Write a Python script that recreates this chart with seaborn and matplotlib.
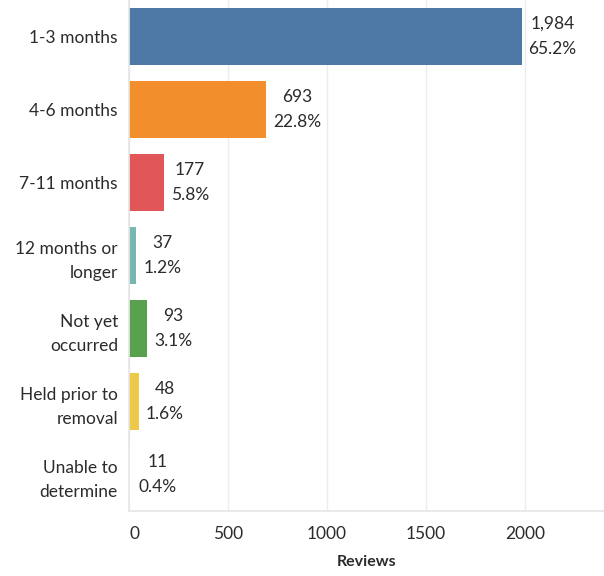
import matplotlib
matplotlib.use("Agg")
import matplotlib.pyplot as plt
import seaborn as sns
import pandas as pd

categories = ["1-3 months", "4-6 months", "7-11 months", "12 months or\nlonger",
              "Not yet\noccurred", "Held prior to\nremoval", "Unable to\ndetermine"]
reviews = [1984, 693, 177, 37, 93, 48, 11]
percents = ["65.2%", "22.8%", "5.8%", "1.2%", "3.1%", "1.6%", "0.4%"]
colors = ["#4e79a7", "#f28e2b", "#e15759", "#76b7b2", "#59a14f", "#edc948", "#ffffff"]
x_ticks = [0, 500, 1000, 1500, 2000]

sns.set_theme(style="white")
plt.rcParams['font.family'] = ['Lato', 'DejaVu Sans']

df = pd.DataFrame({"cat": categories, "Reviews": reviews})

fig = plt.figure(figsize=(6.04, 5.76), dpi=100)
ax = fig.add_axes([129/604, 1 - 511/576, (604 - 129)/604, 511/576])

sns.barplot(data=df, x="Reviews", y="cat", hue="cat", palette=colors,
            legend=False, ax=ax, width=0.77, saturation=1, orient="h",
            linewidth=0)

ax.set_xlim(0, 2400)
ax.set_ylim(6.5, -0.5)
ax.set_xticks(x_ticks)
ax.set_xticklabels([str(t) for t in x_ticks], fontsize=12.5, color="#2b2b2b")
ax.get_xticklabels()[0].set_horizontalalignment("left")
ax.tick_params(axis="x", length=0, pad=11)
ax.tick_params(axis="y", length=0, pad=8)
ax.set_yticks(range(len(categories)))
ax.set_yticklabels(categories, fontsize=12.5, color="#2b2b2b", ha="right")
for lbl in ax.get_yticklabels():
    lbl.set_multialignment("right")
    lbl.set_linespacing(1.6)
ax.set_ylabel("")
ax.set_xlabel("Reviews", fontsize=11.5, fontweight="bold", color="#2b2b2b", labelpad=9)

ax.grid(axis="x", color="#ececec", linewidth=1)
ax.set_axisbelow(True)
for s in ["top", "right"]:
    ax.spines[s].set_visible(False)
ax.spines["left"].set_color("#e6e6e6")
ax.spines["bottom"].set_color("#e6e6e6")
ax.spines["left"].set_zorder(3)

for i, (v, p) in enumerate(zip(reviews, percents)):
    ax.text(v + 35, i, f"{v:,}\n{p}", va="center", ha="left", fontsize=12.5,
            color="#2b2b2b", linespacing=1.7, multialignment="center")

fig.savefig("out.png", dpi=100)
